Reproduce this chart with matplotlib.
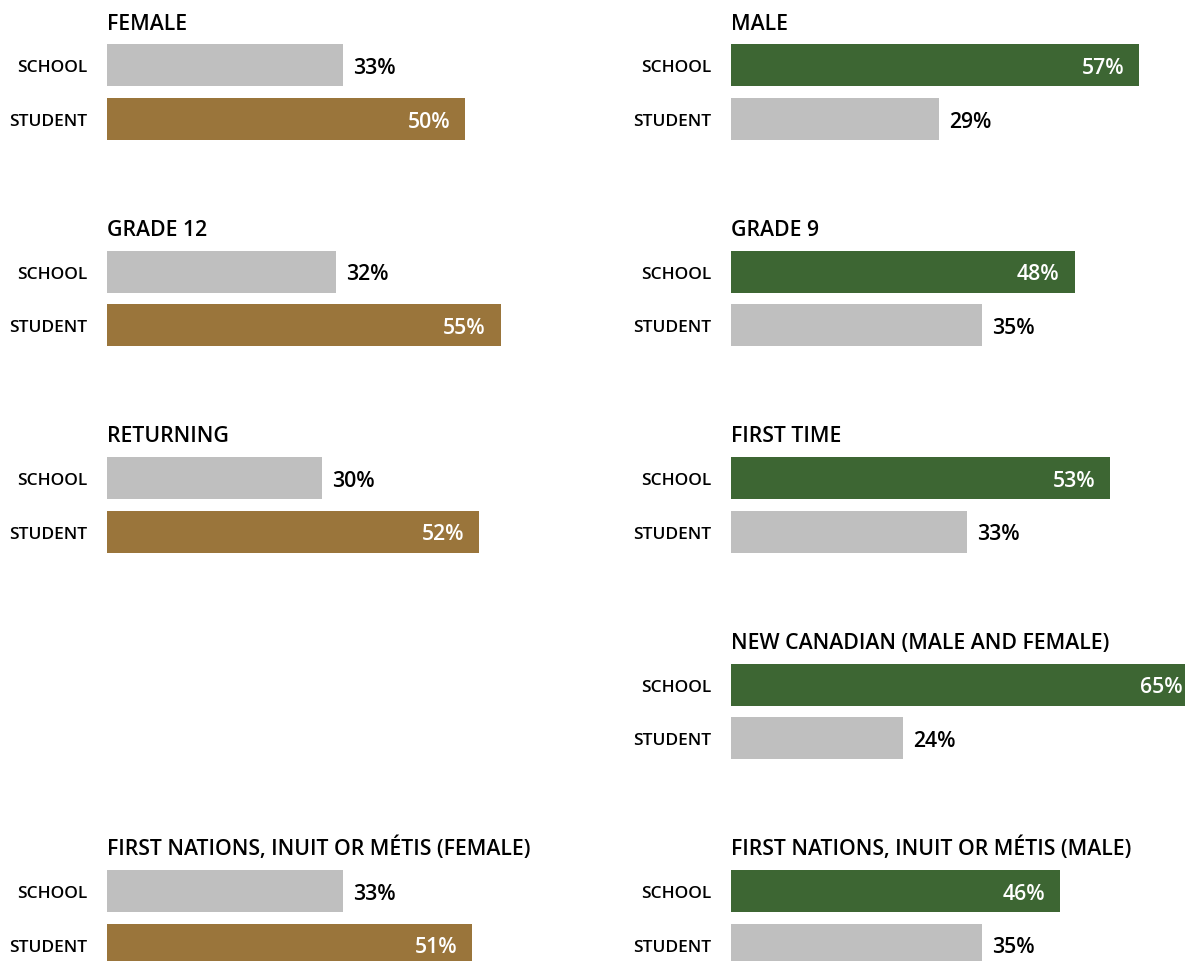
import matplotlib.pyplot as plt

plt.rcParams['font.family'] = ['Open Sans', 'DejaVu Sans']

rows = ['SCHOOL', 'STUDENT']

left_titles = ['FEMALE', 'GRADE 12', 'RETURNING', None, 'FIRST NATIONS, INUIT OR MÉTIS (FEMALE)']
left_school = [33, 32, 30, None, 33]
left_student = [50, 55, 52, None, 51]

right_titles = ['MALE', 'GRADE 9', 'FIRST TIME', 'NEW CANADIAN (MALE AND FEMALE)',
                'FIRST NATIONS, INUIT OR MÉTIS (MALE)']
right_school = [57, 48, 53, 65, 46]
right_student = [29, 35, 33, 24, 35]

GRAY = '#bfbfbf'
GOLD = '#9a753b'
GREEN = '#3d6633'

W, H = 1185, 962
PX_PER_PCT = 7.16
STEP = 206.5

fig = plt.figure(figsize=(W / 100, H / 100), dpi=100)


def draw_side(x0, width, titles, school, student, hi_idx, hi_color):
    ax = fig.add_axes([x0 / W, 0, width / W, 1])
    xmax = width / PX_PER_PCT
    ax.set_xlim(0, xmax)
    ax.set_ylim(H, 0)
    ax.axis('off')
    for i, title in enumerate(titles):
        if title is None:
            continue
        top = i * STEP
        ys = [top + 66, top + 119.5]
        vals = [school[i], student[i]]
        ax.text(0.05, top + 29.5, title, fontsize=15.3, fontweight='semibold',
                va='baseline', ha='left', color='black')
        for j, (y, v) in enumerate(zip(ys, vals)):
            c = hi_color if j == hi_idx else GRAY
            ax.barh(y, v, height=42, left=0, color=c, clip_on=True)
            ax.annotate(rows[j], xy=(0, y), xytext=(-20, -6.5), textcoords='offset pixels',
                        ha='right', va='baseline', fontsize=12.5, fontweight='semibold',
                        annotation_clip=False)
            if j == hi_idx:
                xx = min(v, xmax)
                off = -15 if v < xmax else -2
                ax.annotate(f'{v}%', xy=(xx, y), xytext=(off, -8), textcoords='offset pixels',
                            ha='right', va='baseline', fontsize=15.3, fontweight='semibold',
                            color='white', annotation_clip=False)
            else:
                ax.annotate(f'{v}%', xy=(v, y), xytext=(10, -8), textcoords='offset pixels',
                            ha='left', va='baseline', fontsize=15.3, fontweight='semibold',
                            color='black', annotation_clip=False)
    return ax


draw_side(107, 600, left_titles, left_school, left_student, 1, GOLD)
draw_side(731, W - 731, right_titles, right_school, right_student, 0, GREEN)

fig.savefig('out.png', dpi=100)
